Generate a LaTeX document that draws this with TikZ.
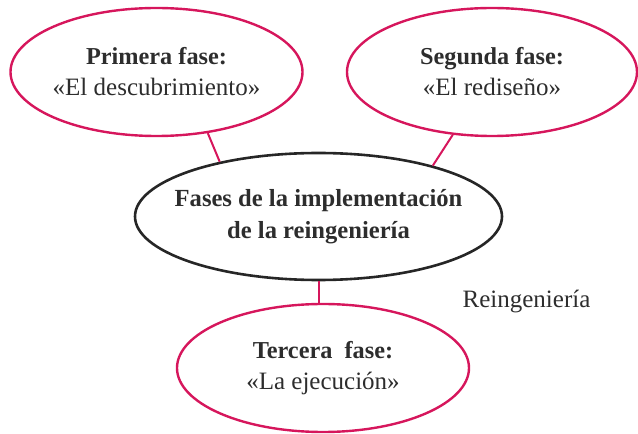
\documentclass[tikz,border=0pt]{standalone}
\usepackage{fontspec}
\setmainfont{Liberation Serif}
\usetikzlibrary{shapes.geometric}
\definecolor{crim}{RGB}{214,22,92}
\definecolor{txt}{RGB}{45,45,45}
\newcommand{\bfl}[1]{{\fontsize{24.3}{31}\selectfont\bfseries #1}}
\tikzset{
  phase/.style={ellipse, draw=crim, line width=2.4pt, inner sep=0pt,
    minimum width=292pt, minimum height=128pt},
  core/.style={ellipse, draw=black!85, line width=2.6pt, inner sep=0pt,
    minimum width=367pt, minimum height=127pt},
  ptext/.style={align=center, inner sep=0pt, font=\fontsize{25}{31}\selectfont, text=txt},
  ctext/.style={align=center, inner sep=0pt, font=\fontsize{24.6}{32}\selectfont\bfseries, text=txt},
  link/.style={draw=crim, line width=2pt},
  lbl/.style={font=\fontsize{25}{26}\selectfont, text=txt, inner sep=0pt}
}
\begin{document}
\begin{tikzpicture}[x=1pt,y=1pt]
\useasboundingbox (0,0) rectangle (638,434);
\node[phase] (p) at (156.5,362) {};
\node[ptext] (pt) at (p) {\bfl{Primera fase:}\\«El descubrimiento»};
\node[phase, minimum width=290pt] (s) at (492,362) {};
\node[ptext] (st) at (s) {\bfl{Segunda fase:}\\«El rediseño»};
\node[core] (c) at (318.5,217.5) {};
\node[ctext] (ct) at (c) {Fases de la implementación\\de la reingeniería};
\node[phase] (t) at (323,66) {};
\node[ptext] (tt) at (t) {\bfl{Tercera\ \ fase:}\\«La ejecución»};
\node[lbl, anchor=base] (r) at (526.5,126) {Reingeniería};
\draw[link] (p.-50) -- (c.151);
\draw[link] (s.-122) -- (c.24);
\draw[link] (c.south) -- (c.south |- t.north);
\end{tikzpicture}
\end{document}
